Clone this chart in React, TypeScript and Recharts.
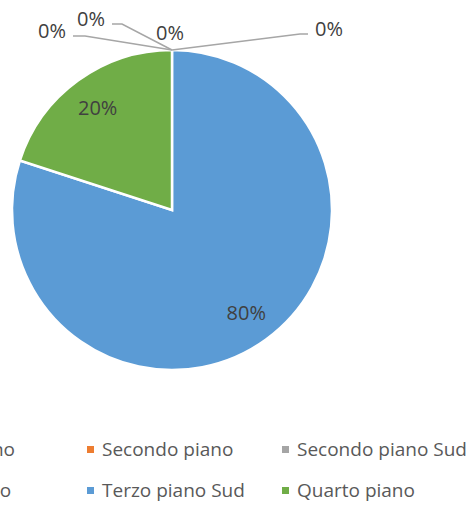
import React from 'react';
import { PieChart, Pie, Cell, Legend } from 'recharts';

const floors = ['Primo piano', 'Secondo piano', 'Secondo piano Sud', 'Terzo piano', 'Terzo piano Sud', 'Quarto piano'];
const shares = [0, 0, 0, 0, 80, 20];
const colors = ['#4472C4', '#ED7D31', '#A5A5A5', '#FFC000', '#5B9BD5', '#70AD47'];

const data = floors.map((name, i) => ({ name, value: shares[i] }));

const FONT = '"Open Sans", sans-serif';
const TEXT = '#404040';
const SHIFT = 120; // first legend column falls outside the visible frame

// where the labels of empty slices are pushed, relative to the slice edge
const zeroLabelOffsets = [
  { dx: -120, dy: -20, elbow: -87 },
  { dx: -81, dy: -32, elbow: -50 },
  { dx: -2, dy: -18, elbow: 0 },
  { dx: 157, dy: -22, elbow: 128 },
];

const renderLabel = (props: any) => {
  const { cx, cy, midAngle, outerRadius, percent, index } = props;
  const text = `${Math.round(percent * 100)}%`;
  if (percent > 0) {
    const rad = (-midAngle * Math.PI) / 180;
    const r = outerRadius * 0.79;
    return (
      <text x={cx + r * Math.cos(rad)} y={cy + r * Math.sin(rad)} textAnchor="middle" dominantBaseline="central"
        fill={TEXT} fontSize={20} fontFamily={FONT}>
        {text}
      </text>
    );
  }
  const off = zeroLabelOffsets[index] ?? zeroLabelOffsets[0];
  const rad = (-midAngle * Math.PI) / 180;
  const sx = cx + outerRadius * Math.cos(rad);
  const sy = cy + outerRadius * Math.sin(rad);
  const lx = sx + off.dx;
  const ly = sy + off.dy;
  const left = off.dx < -5;
  const right = off.dx > 5;
  const endX = left ? lx + 21 : right ? lx - 21 : lx;
  const lineY = ly + 6;
  return (
    <g>
      {(left || right) && (
        <polyline points={`${sx},${sy} ${sx + off.elbow},${lineY} ${endX},${lineY}`} fill="none" stroke="#A6A6A6" strokeWidth={1.5} />
      )}
      <text x={lx} y={ly} textAnchor="middle" dominantBaseline="central" fill={TEXT} fontSize={20} fontFamily={FONT}>
        {text}
      </text>
    </g>
  );
};

const renderLegend = () => (
  <div style={{ position: 'relative', width: 590, height: 80 }}>
    {floors.map((name, i) => {
      const col = i % 3;
      const row = Math.floor(i / 3);
      return (
        <div key={name} style={{ position: 'absolute', left: 12 + col * 195, top: row * 41, display: 'flex', alignItems: 'center', height: 26, whiteSpace: 'nowrap' }}>
          <span style={{ width: 7, height: 7, background: colors[i], marginRight: 8 }} />
          <span style={{ fontFamily: FONT, fontSize: 19, color: '#595959' }}>{name}</span>
        </div>
      );
    })}
  </div>
);

export default function App() {
  return (
    <div style={{ position: 'absolute', left: 0, top: 0, width: 470, height: 509, overflow: 'hidden', background: '#fff' }}>
      <div style={{ position: 'absolute', left: -SHIFT, top: 0 }}>
        <PieChart width={590} height={509} margin={{ top: 0, right: 0, bottom: 0, left: 0 }}>
          <Pie data={data} dataKey="value" nameKey="name" cx={172 + SHIFT} cy={210} outerRadius={160}
            startAngle={90} endAngle={-270} stroke="#fff" strokeWidth={2.5}
            label={renderLabel} labelLine={false} isAnimationActive={false}>
            {data.map((d, i) => (
              <Cell key={d.name} fill={colors[i]} />
            ))}
          </Pie>
          <Legend content={renderLegend} wrapperStyle={{ position: 'absolute', left: 0, top: 436, width: 590 }} />
        </PieChart>
      </div>
    </div>
  );
}
